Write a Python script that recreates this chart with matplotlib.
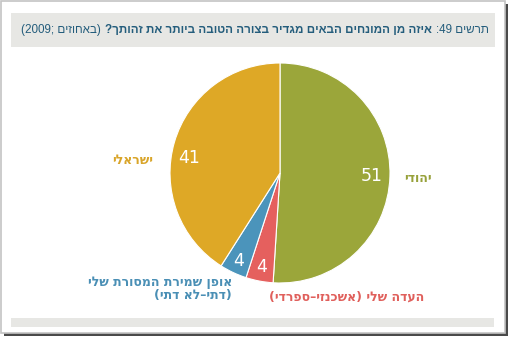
import matplotlib
matplotlib.use("Agg")
import matplotlib.pyplot as plt
from matplotlib.patches import Rectangle
import numpy as np

# ---- data (Hebrew strings are stored in visual left-to-right order) ----
categories = ["ידוהי", "(ידרפס–יזנכשא) ילש הדעה", "ילש תרוסמה תרימש ןפוא\n(יתד אל–יתד)", "ילארשי"]
values = [51, 4, 4, 41]
colors = ["#9ba63a", "#e5605e", "#4b94bb", "#dea826"]
label_colors = ["#97a13a", "#e0605c", "#4a8fb5", "#d9a52a"]
title_right = ":49 םישרת"
title_bold = "?ךתוהז תא רתויב הבוטה הרוצב רידגמ םיאבה םיחנומה ןמ הזיא"
title_left = "(2009; םיזוחאב)"

W, H = 510, 339
fig = plt.figure(figsize=(W / 100, H / 100), dpi=100)
ax = fig.add_axes([0, 0, 1, 1])

def Y(py):
    return H - py

# pie
cx, cy, R = 280, Y(173), 110
wedges, _ = ax.pie(values, colors=colors, startangle=90, counterclock=False,
                   center=(cx, cy), radius=R, frame=True,
                   wedgeprops=dict(edgecolor="white", linewidth=0.8))
for w in wedges:
    w.set_zorder(3)
ax.set_xlim(0, W)
ax.set_ylim(0, H)
ax.set_aspect("equal")
ax.axis("off")

# frame with drop shadow
ax.add_patch(Rectangle((4, Y(336)), 504, 332, facecolor="#4a4a4a", edgecolor="none", zorder=0))
ax.add_patch(Rectangle((0.5, Y(333)), 505, 332.5, facecolor="white", edgecolor="#c4c4c4", lw=1.2, zorder=1))
# header and footer bars
ax.add_patch(Rectangle((11, Y(47)), 484, 34, facecolor="#e7e7e4", edgecolor="none", zorder=2))
ax.add_patch(Rectangle((11, Y(327)), 483, 9, facecolor="#e7e7e4", edgecolor="none", zorder=2))

# title (right-to-left pieces chained)
tcol = "#245d7c"
fs_title = 8.4
tfam = "Liberation Sans"
t1 = ax.text(489, Y(30), title_right, ha="right", va="center", fontsize=fs_title,
             color=tcol, family=tfam, zorder=3)
t2 = ax.annotate(title_bold, xy=(0, 0.5), xycoords=t1, xytext=(-3, 0), textcoords="offset points",
                 ha="right", va="center", fontsize=fs_title, fontweight="bold", color=tcol,
                 family=tfam, zorder=3)
t3 = ax.annotate(title_left, xy=(0, 0.5), xycoords=t2, xytext=(-3, 0), textcoords="offset points",
                 ha="right", va="center", fontsize=fs_title, color=tcol,
                 family=tfam, zorder=3)

# values inside slices
val_r = [0.83, 0.87, 0.88, 0.84]
val_shift = [0, 0, 0, 7]
for w, v, rr, sh in zip(wedges, values, val_r, val_shift):
    mid = np.deg2rad((w.theta1 + w.theta2) / 2 + sh)
    ax.text(cx + rr * R * np.cos(mid), cy + rr * R * np.sin(mid), str(v),
            ha="center", va="center", color="white", fontsize=12.5, zorder=4,
            family="DejaVu Sans")

# category labels
fs_lab = 9.0
ax.text(418, Y(178), categories[0], ha="center", va="center", fontsize=fs_lab,
        fontweight="bold", color=label_colors[0], zorder=4)
ax.text(347, Y(297), categories[1], ha="center", va="center", fontsize=fs_lab,
        fontweight="bold", color=label_colors[1], zorder=4)
ax.text(232, Y(289), categories[2], ha="right", va="center", fontsize=fs_lab,
        fontweight="bold", color=label_colors[2], zorder=4, linespacing=1.05,
        multialignment="right")
ax.text(133, Y(160), categories[3], ha="center", va="center", fontsize=fs_lab,
        fontweight="bold", color=label_colors[3], zorder=4)

fig.savefig("out.png", dpi=100)
